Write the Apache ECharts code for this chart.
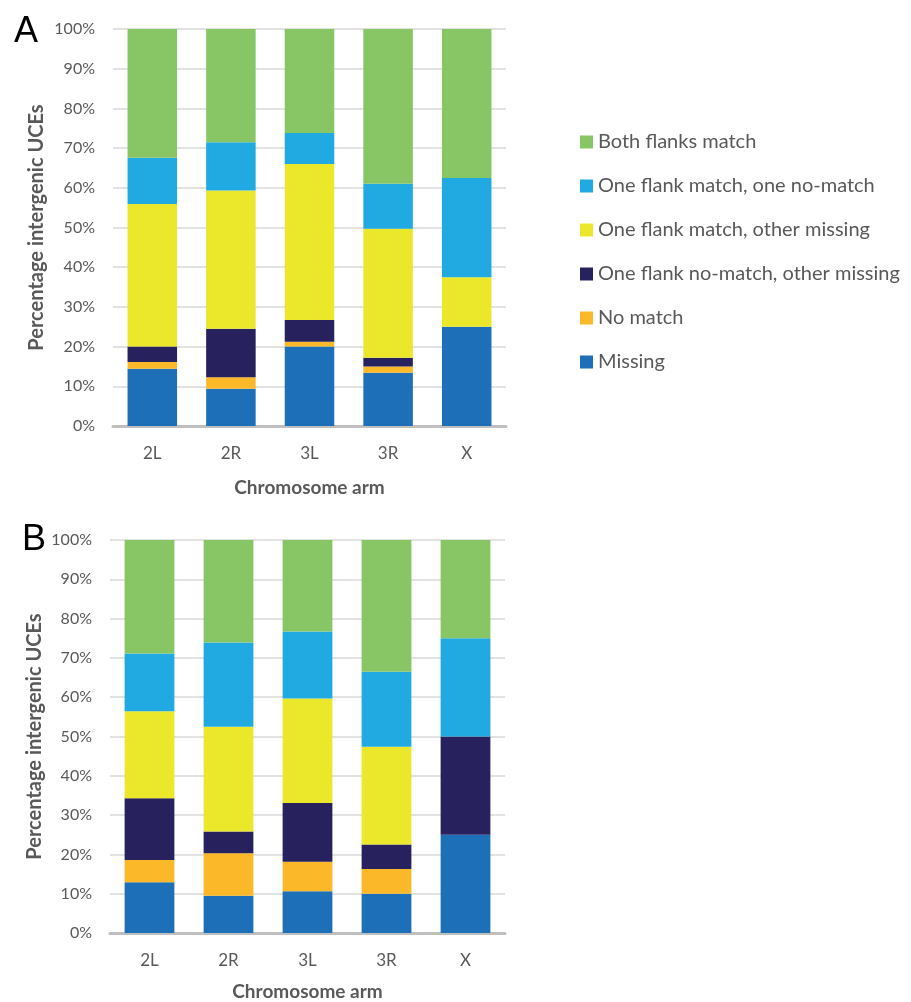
<!DOCTYPE html>
<html>
<head>
<meta charset="utf-8">
<script src="https://cdn.jsdelivr.net/npm/echarts@6/dist/echarts.min.js"></script>
<style>
  html, body { margin: 0; padding: 0; background: #fff; }
  #chart { width: 911px; height: 1002px; }
</style>
</head>
<body>
<div id="chart"></div>
<script>
// chromosome arms
const arms = ['2L', '2R', '3L', '3R', 'X'];
const seriesNames = ['Missing', 'No match', 'One flank no-match, other missing',
  'One flank match, other missing', 'One flank match, one no-match', 'Both flanks match'];
const seriesColors = ['#1d70b7', '#fbb829', '#27225e', '#ebe82c', '#21aae1', '#88c665'];
const yTicks = [0, 10, 20, 30, 40, 50, 60, 70, 80, 90, 100];

// panel A (percent)
const aMissing   = [14.4, 9.4, 20.0, 13.4, 25.0];
const aNoMatch   = [1.7, 2.9, 1.2, 1.6, 0];
const aNoMatchMiss = [3.9, 12.2, 5.5, 2.2, 0];
const aMatchMiss = [35.9, 34.8, 39.3, 32.5, 12.5];
const aMatchNo   = [11.7, 12.2, 7.8, 11.3, 25.0];
const aBoth      = [32.4, 28.5, 26.2, 39.0, 37.5];

// panel B (percent)
const bMissing   = [12.9, 9.5, 10.6, 10.0, 25.0];
const bNoMatch   = [5.7, 10.8, 7.5, 6.3, 0];
const bNoMatchMiss = [15.7, 5.5, 15.0, 6.2, 25.0];
const bMatchMiss = [22.1, 26.7, 26.6, 24.9, 0];
const bMatchNo   = [14.7, 21.4, 17.0, 19.1, 25.0];
const bBoth      = [28.9, 26.1, 23.3, 33.5, 25.0];

const panelA = [aMissing, aNoMatch, aNoMatchMiss, aMatchMiss, aMatchNo, aBoth];
const panelB = [bMissing, bNoMatch, bNoMatchMiss, bMatchMiss, bMatchNo, bBoth];

const font = 'Lato, "Open Sans", sans-serif';
const grey = '#595959';

function makeXAxis(idx, gap) {
  return {
    type: 'category', gridIndex: idx, data: arms,
    axisLine: { lineStyle: { color: '#bfbfbf', width: 3 } },
    axisTick: { show: false },
    axisLabel: { color: grey, fontSize: 17, margin: 19, fontFamily: font },
    name: 'Chromosome arm', nameLocation: 'middle', nameGap: gap,
    nameTextStyle: { color: grey, fontSize: 19, fontWeight: 'bold', fontFamily: font }
  };
}
function makeYAxis(idx, gap) {
  return {
    type: 'value', gridIndex: idx, min: yTicks[0], max: yTicks[yTicks.length - 1], interval: 10,
    axisLine: { show: false }, axisTick: { show: false },
    splitLine: { lineStyle: { color: '#d9d9d9', width: 1.5 } },
    axisLabel: { color: grey, fontSize: 16, margin: 18, fontFamily: font, formatter: '{value}%' },
    name: 'Percentage intergenic UCEs', nameLocation: 'middle', nameGap: gap,
    nameTextStyle: { color: grey, fontSize: 20, fontWeight: 'bold', fontFamily: font }
  };
}

const series = [];
[panelA, panelB].forEach((panel, p) => {
  panel.forEach((vals, i) => {
    series.push({
      name: seriesNames[i], type: 'bar', stack: 'p' + p,
      xAxisIndex: p, yAxisIndex: p, barWidth: '63%',
      itemStyle: { color: seriesColors[i] },
      data: vals
    });
  });
});

const myChart = echarts.init(document.getElementById('chart'));
myChart.setOption({
  animation: false,
  title: [
    { text: 'A', left: 9, top: 9, textStyle: { fontSize: 36, fontWeight: 'normal', color: '#000', fontFamily: 'Liberation Sans, Arial' } },
    { text: 'B', left: 17, top: 517, textStyle: { fontSize: 36, fontWeight: 'normal', color: '#000', fontFamily: 'Liberation Sans, Arial' } }
  ],
  legend: {
    orient: 'vertical', left: 575, top: 127,
    data: seriesNames.slice().reverse(),
    icon: 'rect', itemWidth: 13, itemHeight: 13, itemGap: 24,
    textStyle: { color: grey, fontSize: 20, lineHeight: 20, fontFamily: font }
  },
  grid: [
    { left: 113, top: 29, width: 393, height: 397 },
    { left: 110, top: 540, width: 395, height: 393 }
  ],
  xAxis: [makeXAxis(0, 52), makeXAxis(1, 49)],
  yAxis: [makeYAxis(0, 66), makeYAxis(1, 65)],
  series: series
});
window.onresize = function () { myChart.resize(); };
</script>
</body>
</html>
